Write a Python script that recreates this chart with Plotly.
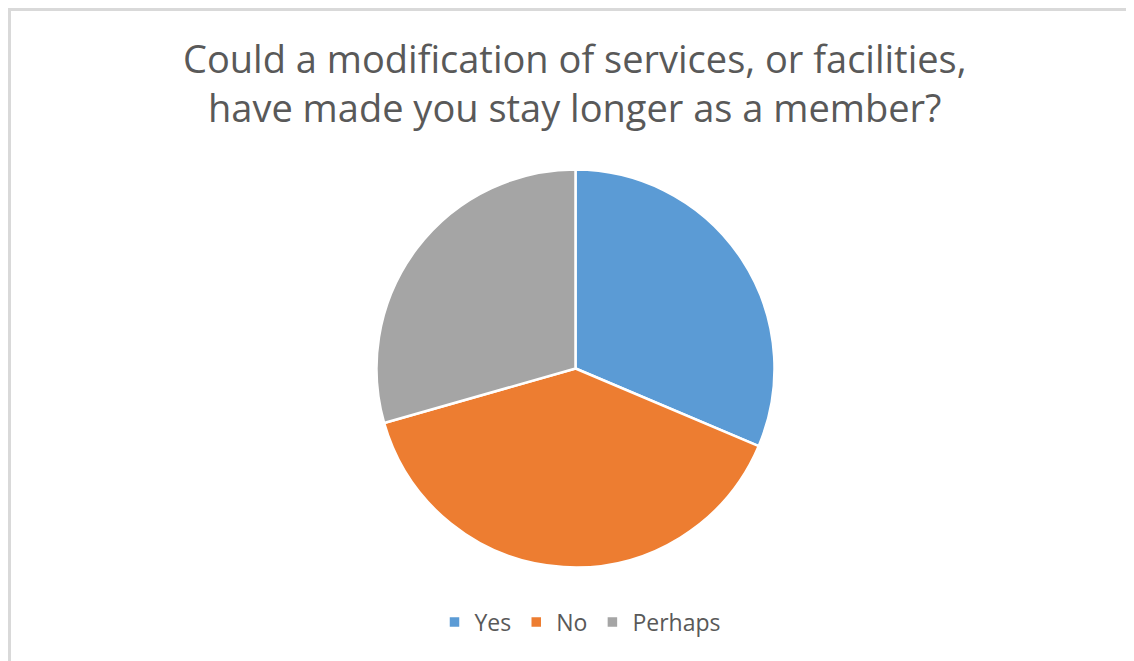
import plotly.graph_objects as go

labels = ["Yes", "No", "Perhaps"]
values = [16, 20, 15]
colors = ["#5B9BD5", "#ED7D31", "#A5A5A5"]
title_text = ("Could a modification of services, or facilities,<br>"
              "have made you stay longer as a member?")

W, H = 1134, 661
OFF = 8  # page body margin offset
cx, cy, r = 575.5 - OFF, 368.5 - OFF, 199


def px(x):
    return (x - OFF) / W


def py(y):
    return 1 - (y - OFF) / H


fig = go.Figure(go.Pie(
    labels=labels,
    values=values,
    sort=False,
    direction="clockwise",
    rotation=0,
    textinfo="none",
    hoverinfo="label+value+percent",
    marker=dict(colors=colors, line=dict(color="white", width=2.5)),
    domain=dict(x=[(cx - r) / W, (cx + r) / W], y=[(H - cy - r) / H, (H - cy + r) / H]),
))

fig.update_layout(
    width=W, height=H,
    margin=dict(l=0, r=0, t=0, b=0),
    paper_bgcolor="white",
    font=dict(family="Open Sans, Noto Sans, sans-serif", color="#595959"),
    showlegend=True,
    legend=dict(orientation="h", x=px(580), xanchor="center", y=py(622), yanchor="middle",
                font=dict(size=23, color="#595959"), itemwidth=30, traceorder="normal"),
    annotations=[dict(text=title_text, x=px(575), y=py(82.5), xref="paper", yref="paper",
                      xanchor="center", yanchor="middle", showarrow=False,
                      font=dict(size=38, color="#595959"))],
    shapes=[
        dict(type="line", xref="paper", yref="paper", x0=px(9.5), x1=px(9.5), y0=-0.1, y1=py(8),
             line=dict(color="#D9D9D9", width=3)),
        dict(type="line", xref="paper", yref="paper", x0=px(8), x1=1.1, y0=py(9.5), y1=py(9.5),
             line=dict(color="#D9D9D9", width=3)),
    ],
)

fig.write_html("out.html")
